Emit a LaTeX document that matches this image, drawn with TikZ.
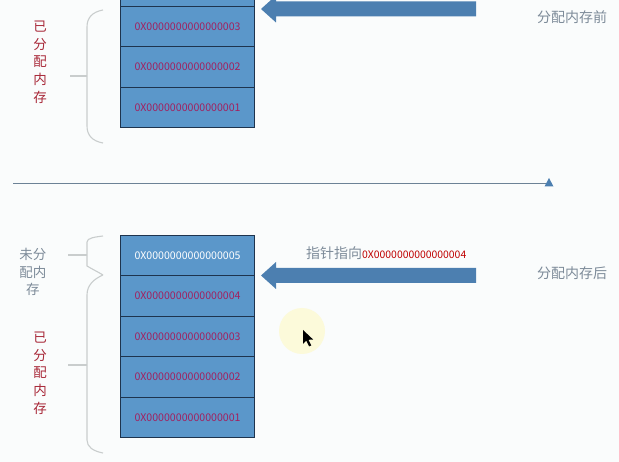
\documentclass[tikz,border=0pt]{standalone}
\usepackage{fontspec}
\setmainfont{Noto Sans CJK SC}
\usetikzlibrary{positioning}
\definecolor{bgc}{HTML}{FAFCFC}
\definecolor{cellfill}{HTML}{5B97CA}
\definecolor{cellline}{HTML}{1E344E}
\definecolor{hexred}{HTML}{A2205E}
\definecolor{labred}{HTML}{A82838}
\definecolor{labgray}{HTML}{7D8B99}
\definecolor{arrowblue}{HTML}{4C7FB0}
\definecolor{bracec}{HTML}{C9CDCD}
\definecolor{rulec}{HTML}{6C8296}
\definecolor{glow}{HTML}{FCFADA}
\tikzset{
  cell/.style={draw=cellline, line width=1.1pt, fill=cellfill, minimum width=134pt,
    minimum height=40.4pt, anchor=north west, inner sep=0pt,
    font=\fontsize{10.6}{12}\selectfont, text=hexred},
  bracepath/.style={draw=bracec, line width=1.1pt},
  fatarrow/.style={fill=arrowblue, draw=none},
  vlabel/.style={align=center, font=\fontsize{13.5}{17.7}\selectfont, inner sep=0pt},
  hlabel/.style={font=\fontsize{14}{16}\selectfont, text=labgray, inner sep=0pt}
}
\begin{document}
\begin{tikzpicture}[x=1pt,y=-1pt]
\useasboundingbox (0,0) rectangle (619,462);
\fill[bgc] (0,0) rectangle (619,462);

% ---------- top (before allocation) ----------
\node[cell] (t4) at (120,-34.4) {};
\node[cell] (t3) at (120,6) {0X0000000000000003};
\node[cell] (t2) at (120,46.4) {0X0000000000000002};
\node[cell] (t1) at (120,86.8) {0X0000000000000001};

\coordinate (ta) at (476,9);
\fill[fatarrow] (ta) ++(0,-7.5) -- (276,1.5) -- (276,-4.5) -- (261,9) -- (276,22.5) -- (276,16.5) -- (476,16.5) -- cycle;
\node[hlabel, anchor=west] (before) at (537,17) {分配内存前};

\draw[bracepath] (103,10) .. controls (92,12) and (87,18) .. (87,27) -- (87,126)
  .. controls (87,135) and (92,141) .. (103,143);
\coordinate (tbt) at (87,76);
\coordinate (tbl) at (70,76);
\draw[bracepath] (tbt) -- (tbl);
\node[vlabel, text=labred] (talloc) at (40,62) {已\\分\\配\\内\\存};

% ---------- divider ----------
\coordinate (ruleL) at (13,183);
\coordinate (ruleR) at (549,183);
\draw[rulec, line width=0.9pt] (ruleL) -- (ruleR);
\fill[arrowblue] (544.5,186.5) -- (549,178) -- (553.5,186.5) -- cycle;

% ---------- bottom (after allocation) ----------
\node[cell, text=white] (b5) at (120,235) {0X0000000000000005};
\node[cell] (b4) at (120,275.4) {0X0000000000000004};
\node[cell] (b3) at (120,315.8) {0X0000000000000003};
\node[cell] (b2) at (120,356.2) {0X0000000000000002};
\node[cell] (b1) at (120,396.6) {0X0000000000000001};

\coordinate (ba) at (476,275.5);
\fill[fatarrow] (ba) ++(0,-7.5) -- (276,268) -- (276,262) -- (261,275.5) -- (276,289) -- (276,283) -- (476,283) -- cycle;
\node[hlabel, anchor=west] (after) at (537,273) {分配内存后};
\node[anchor=west, inner sep=0pt] (ptr) at (306,253)
  {\fontsize{14}{16}\selectfont\color{labgray}指针指向\fontsize{10.4}{12}\selectfont\color{red!75!black}0X0000000000000004};

% braces bottom
\draw[bracepath] (103,236) .. controls (95,237) and (87,238) .. (87,242) -- (87,266)
  .. controls (92,269) and (98,272) .. (103,275);
\draw[bracepath] (103,275) .. controls (94,279) and (87,285) .. (87,295) -- (87,440)
  .. controls (87,447) and (93,451) .. (103,453);
\coordinate (bb1) at (87,255);
\coordinate (bb1l) at (68,255);
\coordinate (bb2) at (87,365);
\coordinate (bb2l) at (68,365);
\draw[bracepath] (bb1) -- (bb1l);
\draw[bracepath] (bb2) -- (bb2l);
\node[vlabel, text=labgray] (free) at (33,272) {未分\\配内\\存};
\node[vlabel, text=labred] (balloc) at (40,373) {已\\分\\配\\内\\存};

% cursor highlight
\fill[glow] (302,331) circle (23);
\coordinate (cur) at (303,330);
\fill[black] (cur) -- ++(0,14) -- ++(3.3,-3.4) -- ++(2.8,5.8) -- ++(2.2,-1) -- ++(-2.8,-5.6) -- ++(4.6,-0.3) -- cycle;
\end{tikzpicture}
\end{document}
